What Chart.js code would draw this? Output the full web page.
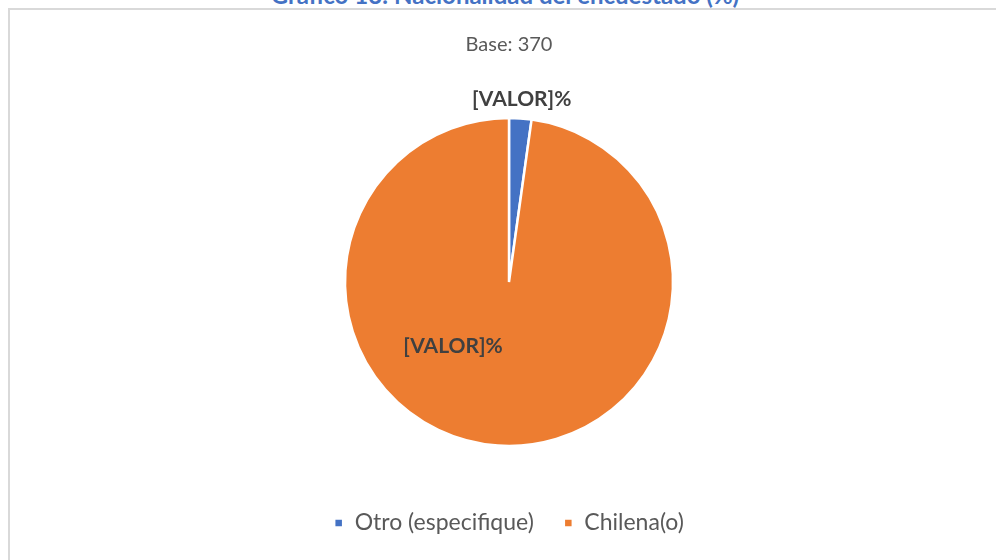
<!DOCTYPE html>
<html>
<head>
<meta charset="utf-8">
<script src="https://cdn.jsdelivr.net/npm/chart.js@4"></script>
<style>
  html, body { margin: 0; padding: 0; background: #fff; overflow: hidden; }
  #wrap { position: relative; width: 996px; height: 560px; }
  #frame { position: absolute; left: 8px; top: 8px; width: 1000px; height: 600px;
           border: 2px solid #d9d9d9; box-sizing: border-box; }
  #heading { position: absolute; left: 0; width: 1010px; top: -17px; text-align: center;
             font: bold 24px Lato, sans-serif; line-height: 24px; color: #4472c4; }
  #chart { position: absolute; left: 0; top: 0; }
</style>
</head>
<body>
<div id="wrap">
  <div id="frame"></div>
  <div id="heading">Gráfico 13: Nacionalidad del encuestado (%)</div>
  <canvas id="chart" width="996" height="560"></canvas>
</div>
<script>
    // Data
    const categories = ['Otro (especifique)', 'Chilena(o)'];
    const values = [2.2, 97.8];
    const sliceColors = ['#4472c4', '#ed7d31'];
    const sliceLabels = ['[VALOR]%', '[VALOR]%'];
    const baseText = 'Base: 370';

    // where each data label sits: angle from top (deg, clockwise) or slice middle, and radius fraction
    const labelSpots = [
        { angle: null, frac: 1.12 },
        { angle: 221, frac: 0.52 }
    ];

    const valueLabels = {
        id: 'valueLabels',
        afterDatasetsDraw(chart) {
            const ctx = chart.ctx;
            const meta = chart.getDatasetMeta(0);
            ctx.save();
            ctx.font = 'bold 21px Lato, sans-serif';
            ctx.fillStyle = '#404040';
            ctx.textAlign = 'center';
            ctx.textBaseline = 'middle';
            meta.data.forEach(function(arc, i) {
                const p = arc.getProps(['x', 'y', 'startAngle', 'endAngle', 'outerRadius'], true);
                const spot = labelSpots[i];
                let a = (p.startAngle + p.endAngle) / 2;
                if (spot.angle !== null) a = spot.angle * Math.PI / 180 - Math.PI / 2;
                const r = p.outerRadius * spot.frac;
                ctx.fillText(sliceLabels[i], p.x + Math.cos(a) * r, p.y + Math.sin(a) * r);
            });
            ctx.restore();
        }
    };

    const ctxPie = document.getElementById('chart').getContext('2d');
    const pieChart = new Chart(ctxPie, {
        type: 'pie',
        data: {
            labels: categories,
            datasets: [{
                data: values,
                backgroundColor: sliceColors,
                borderColor: '#ffffff',
                borderWidth: 2.5,
                radius: 164
            }]
        },
        options: {
            responsive: false,
            animation: false,
            layout: {
                padding: { top: 0, bottom: 15.5, left: 22, right: 0 }
            },
            plugins: {
                subtitle: {
                    display: true,
                    text: baseText,
                    color: '#595959',
                    font: { family: 'Lato, sans-serif', size: 20, weight: 'normal' },
                    padding: { top: 33, bottom: 25.5 }
                },
                legend: {
                    position: 'bottom',
                    labels: {
                        color: '#595959',
                        font: { family: 'Lato, sans-serif', size: 23 },
                        boxWidth: 9,
                        boxHeight: 9,
                        padding: 30
                    }
                },
                tooltip: { enabled: false }
            }
        },
        plugins: [valueLabels]
    });
</script>
</body>
</html>
